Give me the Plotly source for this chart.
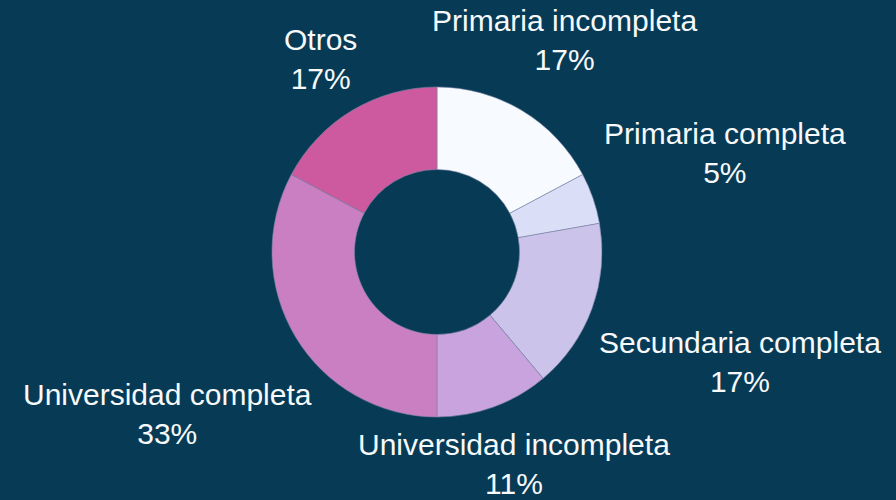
import math
import plotly.graph_objects as go

categories = ["Primaria incompleta", "Primaria completa", "Secundaria completa",
              "Universidad incompleta", "Universidad completa", "Otros"]
values = [31, 9, 30, 20, 59, 31]
colors = ["#f7fbff", "#dadff7", "#cbc3ea", "#c9a3dd", "#c97fc2", "#cd5a9e"]

# ---- layout / style constants ----
W, H = 896, 500
CX, CY, R = 437, 252, 165          # pie centre and outer radius in px
LABEL_R = 180                       # labels sit just outside this radius
FONT_SIZE = 30
HALF_H = 32                         # half height of a two-line label block
BG = "#073b55"

# Arial / Liberation Sans advance widths (per 1000 em)
ADV = {" ": 278, "P": 667, "r": 333, "i": 222, "m": 833, "a": 556, "c": 500,
       "o": 556, "p": 556, "l": 222, "e": 556, "t": 278, "S": 667, "u": 556,
       "n": 556, "d": 556, "U": 722, "v": 500, "s": 500, "y": 500, "O": 778,
       "%": 889}


def text_width(s):
    return sum(ADV.get(ch, 556) for ch in s) * FONT_SIZE / 1000.0


fig = go.Figure(go.Pie(
    labels=categories,
    values=values,
    hole=0.5,
    sort=False,
    direction="clockwise",
    rotation=0,
    marker=dict(colors=colors, line=dict(color="#7d84a6", width=0.6)),
    textinfo="none",
    showlegend=False,
    hoverinfo="label+percent",
    domain=dict(x=[(CX - R) / W, (CX + R) / W],
                y=[(H - CY - R) / H, (H - CY + R) / H]),
))

total = float(sum(values))
cum = 0.0
annotations = []
for lab, v in zip(categories, values):
    mid = (cum + v / 2.0) / total * 2 * math.pi
    cum += v
    ux, uy = math.sin(mid), -math.cos(mid)
    pct = f"{int(math.floor(100 * v / total + 0.5))}%"
    hw = max(text_width(lab), text_width(pct)) / 2.0

    def dist(d):
        dx = max(abs(d * ux) - hw, 0.0)
        dy = max(abs(d * uy) - HALF_H, 0.0)
        return math.hypot(dx, dy)

    lo, hi = 0.0, 1000.0
    for _ in range(60):
        m = (lo + hi) / 2
        if dist(m) < LABEL_R:
            lo = m
        else:
            hi = m
    d = (lo + hi) / 2
    px, py = CX + d * ux, CY + d * uy
    annotations.append(dict(
        x=px / W, y=1 - py / H, xref="paper", yref="paper",
        xanchor="center", yanchor="middle", showarrow=False,
        text=f"{lab}<br>{pct}", align="center",
        font=dict(family="Liberation Sans, Arial, sans-serif", size=FONT_SIZE, color="#f7f9fb"),
    ))

fig.update_layout(
    width=W, height=H,
    paper_bgcolor=BG,
    plot_bgcolor=BG,
    margin=dict(l=0, r=0, t=0, b=0),
    annotations=annotations,
)

fig.write_html("out.html", config={"displayModeBar": False},
               post_script="document.body.style.margin='0';document.body.style.background='#073b55';")
